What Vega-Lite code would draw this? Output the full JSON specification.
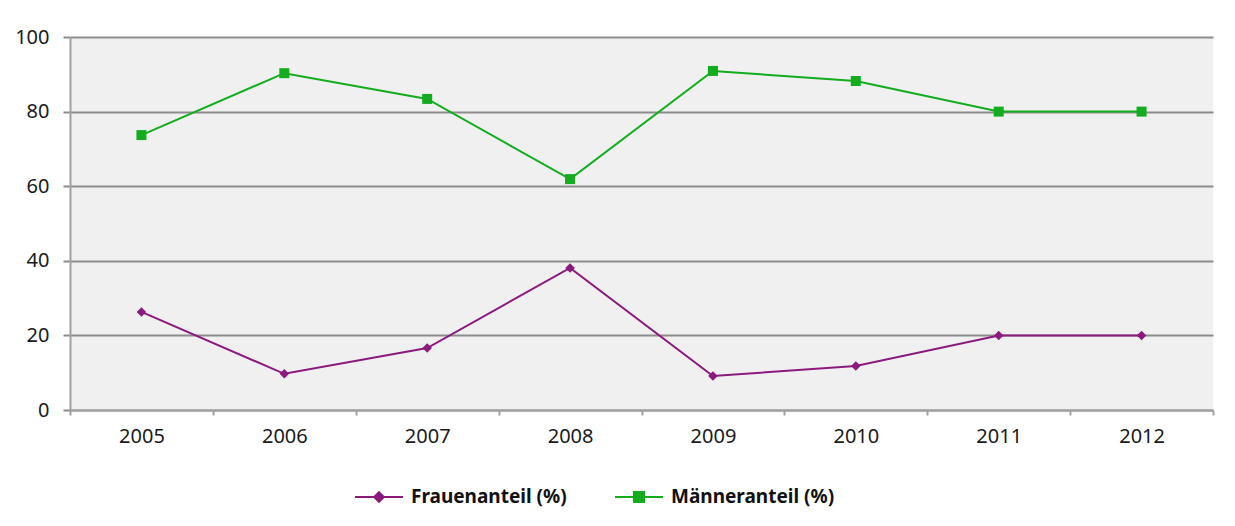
{
  "$schema": "https://vega.github.io/schema/vega-lite/v6.json",
  "width": 1143,
  "height": 373,
  "autosize": "none",
  "padding": {"left": 70, "top": 37, "right": 22, "bottom": 116},
  "background": "white",
  "config": {
    "view": {"fill": "#F0F0F0", "stroke": null},
    "font": "Noto Sans"
  },
  "data": {
    "values": [
      {"year": "2005", "series": "Frauenanteil (%)", "value": 26.3},
      {"year": "2006", "series": "Frauenanteil (%)", "value": 9.7},
      {"year": "2007", "series": "Frauenanteil (%)", "value": 16.6},
      {"year": "2008", "series": "Frauenanteil (%)", "value": 38.1},
      {"year": "2009", "series": "Frauenanteil (%)", "value": 9.1},
      {"year": "2010", "series": "Frauenanteil (%)", "value": 11.8},
      {"year": "2011", "series": "Frauenanteil (%)", "value": 20},
      {"year": "2012", "series": "Frauenanteil (%)", "value": 20},
      {"year": "2005", "series": "Männeranteil (%)", "value": 73.7},
      {"year": "2006", "series": "Männeranteil (%)", "value": 90.3},
      {"year": "2007", "series": "Männeranteil (%)", "value": 83.4},
      {"year": "2008", "series": "Männeranteil (%)", "value": 61.9},
      {"year": "2009", "series": "Männeranteil (%)", "value": 90.9},
      {"year": "2010", "series": "Männeranteil (%)", "value": 88.2},
      {"year": "2011", "series": "Männeranteil (%)", "value": 80},
      {"year": "2012", "series": "Männeranteil (%)", "value": 80}
    ]
  },
  "encoding": {
    "x": {
      "field": "year",
      "type": "ordinal",
      "bandPosition": 0.5,
      "scale": {"type": "band", "paddingInner": 0, "paddingOuter": 0},
      "axis": {
        "title": null,
        "tickBand": "extent",
        "labelAngle": 0,
        "labelFontSize": 20,
        "labelColor": "#1a1a1a",
        "labelPadding": 11,
        "tickSize": 5,
        "tickColor": "#A0A0A0",
        "tickWidth": 2,
        "domainColor": "#A0A0A0",
        "domainWidth": 2,
        "grid": false
      }
    },
    "y": {
      "field": "value",
      "type": "quantitative",
      "scale": {"domain": [0, 100], "nice": false},
      "axis": {
        "title": null,
        "values": [0, 20, 40, 60, 80, 100],
        "labelFontSize": 20,
        "labelColor": "#1a1a1a",
        "labelPadding": 14,
        "tickSize": 7,
        "tickColor": "#8C8C8C",
        "tickWidth": 2,
        "domainColor": "#A0A0A0",
        "domainWidth": 2,
        "grid": true,
        "gridColor": "#8C8C8C",
        "gridWidth": 2
      }
    },
    "color": {
      "field": "series",
      "type": "nominal",
      "scale": {"domain": ["Frauenanteil (%)", "Männeranteil (%)"], "range": ["#8B1A7D", "#12AC1E"]},
      "legend": {
        "title": null,
        "orient": "none",
        "direction": "horizontal",
        "legendX": 284,
        "legendY": 435,
        "labelFontSize": 19,
        "labelFontWeight": "bold",
        "labelColor": "#111111",
        "labelLimit": 0,
        "labelOffset": 7,
        "columnPadding": 44,
        "symbolSize": 2304,
        "symbolStrokeWidth": 2,
        "encode": {
          "symbols": {
            "update": {
              "shape": {"signal": "datum.value === 'Frauenanteil (%)' ? 'M-1,0H1M0,-0.2L0.2,0L0,0.2L-0.2,0Z' : 'M-1,0H1M-0.21,-0.21H0.21V0.21H-0.21Z'"},
              "fill": {"signal": "datum.value === 'Frauenanteil (%)' ? '#8B1A7D' : '#12AC1E'"},
              "stroke": {"signal": "datum.value === 'Frauenanteil (%)' ? '#8B1A7D' : '#12AC1E'"},
              "fillOpacity": {"value": 1},
              "strokeWidth": {"value": 2}
            }
          }
        }
      }
    }
  },
  "layer": [
    {"mark": {"type": "line", "strokeWidth": 2}},
    {
      "transform": [{"filter": "datum.series === 'Frauenanteil (%)'"}],
      "mark": {"type": "point", "filled": true, "opacity": 1, "shape": "diamond", "size": 90}
    },
    {
      "transform": [{"filter": "datum.series === 'Männeranteil (%)'"}],
      "mark": {"type": "point", "filled": true, "opacity": 1, "shape": "square", "size": 100}
    }
  ]
}
